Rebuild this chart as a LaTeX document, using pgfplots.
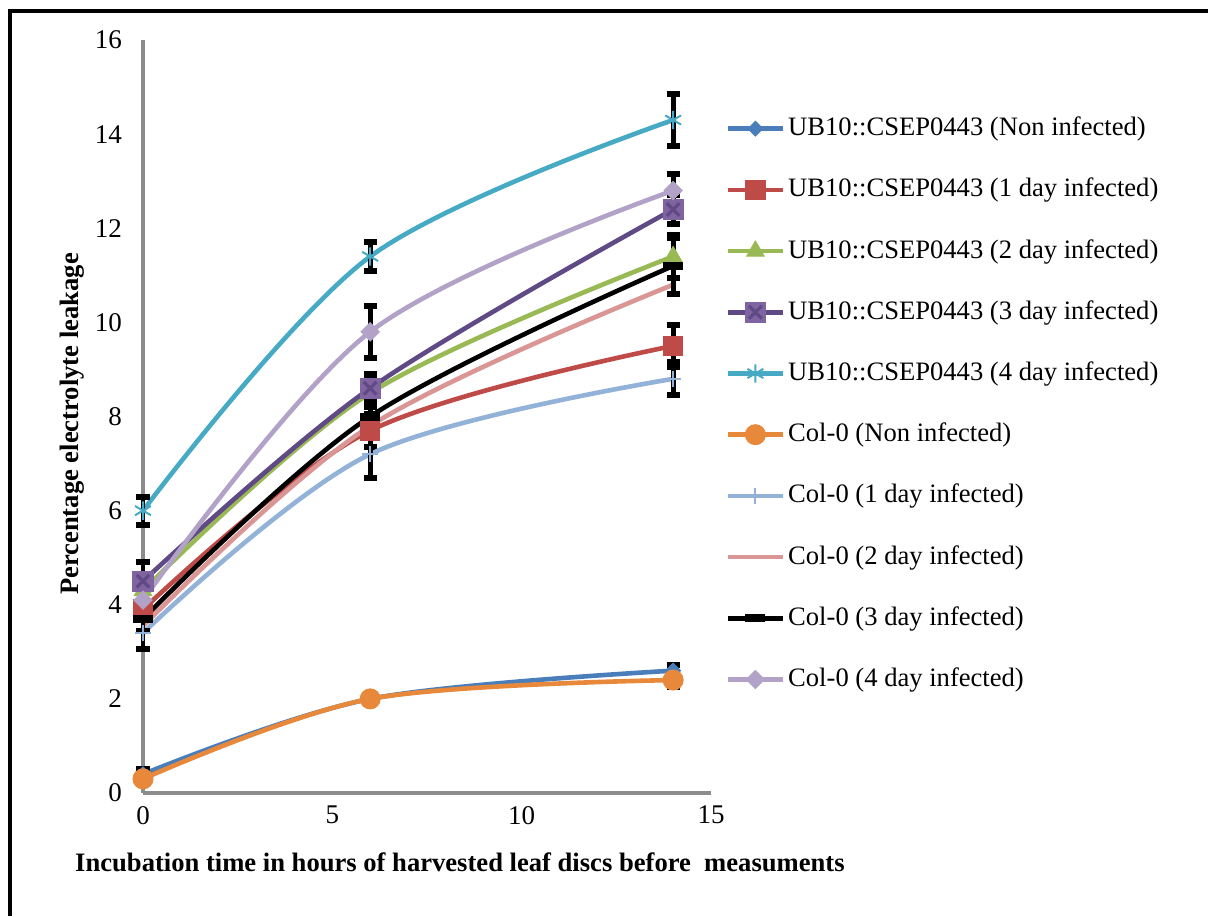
\documentclass[border=0pt]{standalone}
\usepackage{pgfplots}
\pgfplotsset{compat=1.18}
\usepackage{fontspec}
\setmainfont{Liberation Serif}
\definecolor{cblue}{HTML}{4A7EBB}
\definecolor{cred}{HTML}{BE4B48}
\definecolor{cgreen}{HTML}{98B954}
\definecolor{cpurpleL}{HTML}{5F4A85}
\definecolor{cpurpleM}{HTML}{8064A2}
\definecolor{cteal}{HTML}{46AAC5}
\definecolor{corange}{HTML}{E8883A}
\definecolor{clblue}{HTML}{93B2D8}
\definecolor{cpink}{HTML}{D99694}
\definecolor{clpurple}{HTML}{B3A2C7}
\definecolor{axisgray}{HTML}{8C8C8C}
\pgfdeclareplotmark{sqx}{%
  \pgfpathrectangle{\pgfqpoint{-\pgfplotmarksize}{-\pgfplotmarksize}}{\pgfqpoint{2\pgfplotmarksize}{2\pgfplotmarksize}}%
  \pgfusepathqfill
  \pgfpathmoveto{\pgfqpoint{-.6\pgfplotmarksize}{-.6\pgfplotmarksize}}%
  \pgfpathlineto{\pgfqpoint{.6\pgfplotmarksize}{.6\pgfplotmarksize}}%
  \pgfpathmoveto{\pgfqpoint{-.6\pgfplotmarksize}{.6\pgfplotmarksize}}%
  \pgfpathlineto{\pgfqpoint{.6\pgfplotmarksize}{-.6\pgfplotmarksize}}%
  \pgfusepathqstroke}
\begin{document}
\begin{tikzpicture}
\path[use as bounding box, fill=white] (-71.5pt,-61.5pt) rectangle (532.5pt,396.5pt);
\begin{axis}[
  at={(0,0)}, anchor=south west,
  scale only axis, width=284pt, height=376.5pt,
  xmin=0, xmax=15, ymin=0, ymax=16,
  axis x line=bottom, axis y line=left,
  axis line style={-, line width=2pt, color=axisgray},
  xtick={0,5,10,15}, ytick={0,2,...,16},
  major tick length=0pt,
  tick label style={font=\fontsize{13.5}{15}\selectfont},
  /pgf/number format/assume math mode=true,
  yticklabel style={xshift=-7pt},
  xticklabel style={yshift=-3pt},
  xlabel={\textbf{Incubation time in hours of harvested leaf discs before\ \ measuments}},
  ylabel={\textbf{Percentage electrolyte leakage}},
  label style={font=\fontsize{13.3}{15}\selectfont},
  xlabel style={at={(axis description cs:0.558,-0.0916)}, anchor=center},
  ylabel style={at={(axis description cs:-0.125,0.49)}, anchor=center},
  clip=false,
  every axis plot/.append style={smooth, tension=0.55, line width=2.3pt},
  error bars/y dir=both, error bars/y explicit,
  error bars/error bar style={line width=2.4pt, black},
  error bars/error mark options={rotate=90, mark size=3.3pt, line width=3pt, black},
  legend cell align=left,
  legend style={at={(1.025,0.904)}, anchor=north west, draw=none, fill=none,
    inner sep=0pt, row sep=14.6pt, font=\fontsize{13.3}{16}\selectfont,
    nodes={text height=10pt, text depth=3pt, inner sep=1.5pt}},
  legend image code/.code={\draw[mark repeat=2,mark phase=2,#1] plot coordinates {(0pt,0pt) (13.75pt,0pt) (27.5pt,0pt)};},
]
\addplot[color=cblue, mark=square*, mark size=2.6pt, mark options={rotate=45, fill=cblue, line width=0.5pt}]
  coordinates {(0,0.4) +- (0,0.1) (6,2.0) +- (0,0.1) (14,2.6) +- (0,0.12)};
\addlegendentry{UB10::CSEP0443 (Non infected)}
\addplot[color=cred, mark=square*, mark size=4.8pt, mark options={fill=cred, line width=0.5pt}]
  coordinates {(0,3.9) +- (0,0.2) (6,7.7) +- (0,0.35) (14,9.5) +- (0,0.45)};
\addlegendentry{UB10::CSEP0443 (1 day infected)}
\addplot[color=cgreen, mark=triangle*, mark size=5pt, mark options={fill=cgreen, line width=0.5pt}]
  coordinates {(0,4.3) +- (0,0.2) (6,8.5) +- (0,0.3) (14,11.4) +- (0,0.45)};
\addlegendentry{UB10::CSEP0443 (2 day infected)}
\addplot[color=cpurpleL, mark=sqx, mark size=5.3pt, mark options={fill=cpurpleM, draw=cpurpleL, line width=1.6pt}]
  coordinates {(0,4.5) +- (0,0.4) (6,8.6) +- (0,0.3) (14,12.4) +- (0,0.3)};
\addlegendentry{UB10::CSEP0443 (3 day infected)}
\addplot[color=cteal, mark=asterisk, mark size=4.6pt, mark options={line width=1pt}]
  coordinates {(0,6.0) +- (0,0.3) (6,11.4) +- (0,0.3) (14,14.3) +- (0,0.55)};
\addlegendentry{UB10::CSEP0443 (4 day infected)}
\addplot[color=corange, mark=*, mark size=5pt, mark options={fill=corange, line width=0.5pt}]
  coordinates {(0,0.3) +- (0,0.1) (6,2.0) +- (0,0.1) (14,2.4) +- (0,0.15)};
\addlegendentry{Col-0 (Non infected)}
\addplot[color=clblue, mark=+, mark size=4pt, mark options={line width=1pt}]
  coordinates {(0,3.4) +- (0,0.35) (6,7.2) +- (0,0.5) (14,8.8) +- (0,0.35)};
\addlegendentry{Col-0 (1 day infected)}
\addplot[color=cpink, no markers, forget plot]
  coordinates {(0,3.55) (6,7.8) (14,10.8)};
\addplot[color=cpink, no markers, draw=none, error bars/y dir=none] coordinates {(14,10.8)};
\addlegendentry{Col-0 (2 day infected)}
\addplot[color=black, mark=-, mark size=5pt, mark options={line width=4pt}]
  coordinates {(0,3.7) +- (0,0.25) (6,8.0) +- (0,0.4) (14,11.2) +- (0,0.6)};
\addlegendentry{Col-0 (3 day infected)}
\addplot[color=clpurple, mark=square*, mark size=3.2pt, mark options={rotate=45, fill=clpurple, line width=0.5pt}]
  coordinates {(0,4.1) +- (0,0.3) (6,9.8) +- (0,0.55) (14,12.8) +- (0,0.35)};
\addlegendentry{Col-0 (4 day infected)}
\end{axis}
\draw[black, line width=2pt] (-66.5pt,-61.5pt) -- (-66.5pt,390.75pt) -- (532.5pt,390.75pt);
\end{tikzpicture}
\end{document}
